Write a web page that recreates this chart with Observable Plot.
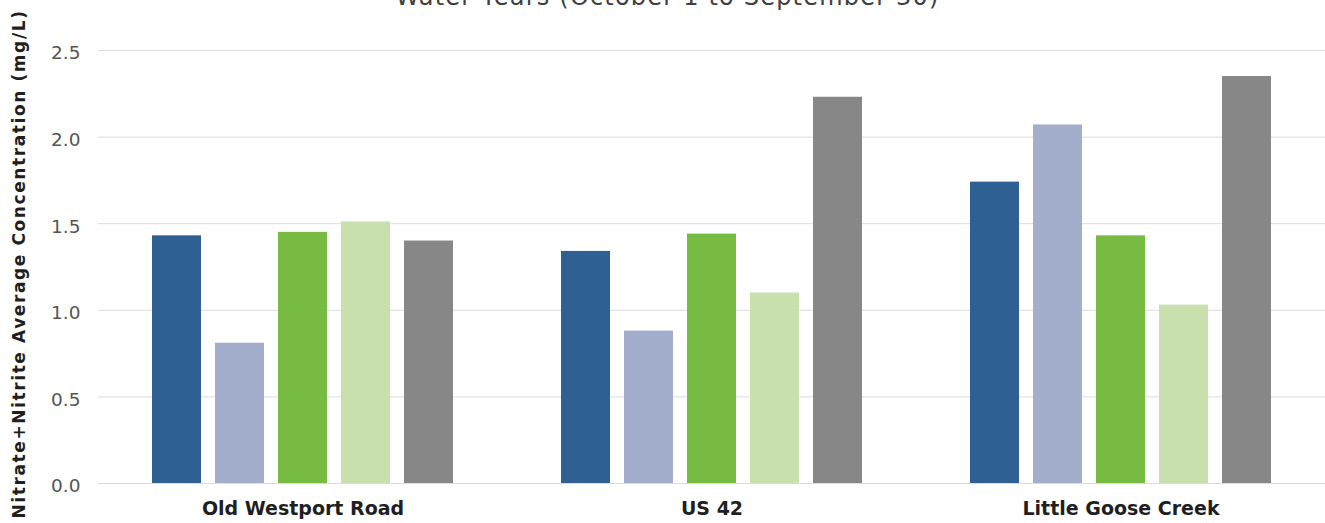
<!DOCTYPE html>
<html>
<head>
<meta charset="utf-8">
<script src="https://cdn.jsdelivr.net/npm/d3@7"></script>
<script src="https://cdn.jsdelivr.net/npm/@observablehq/plot@0.6"></script>
<style>
  html, body { margin: 0; padding: 0; background: #ffffff; }
  #chart { width: 1325px; height: 523px; overflow: hidden; }
</style>
</head>
<body>
<div id="chart"></div>
<script>
// Data
const sites = ["Old Westport Road", "US 42", "Little Goose Creek"];
const years = ["WY 2016", "WY 2017", "WY 2018", "WY 2019", "WY 2020"];
const oldWestportRoad = [1.43, 0.81, 1.45, 1.51, 1.40];
const us42 = [1.34, 0.88, 1.44, 1.10, 2.23];
const littleGooseCreek = [1.74, 2.07, 1.43, 1.03, 2.35];
const seriesColors = ["#2e6093", "#a2aecb", "#78bb43", "#c8e0ae", "#878787"];
const yTicks = [0, 0.5, 1.0, 1.5, 2.0, 2.5];
const titleText = "Water Years (October 1 to September 30)";
const yLabelText = "Nitrate+Nitrite Average Concentration (mg/L)";

const valuesBySite = [oldWestportRoad, us42, littleGooseCreek];
const data = [];
sites.forEach((s, i) => years.forEach((y, j) => data.push({site: s, year: y, value: valuesBySite[i][j]})));

const FONT = "'DejaVu Sans', sans-serif";
const W = 1325, H = 523;
const chart = Plot.plot({
  width: W, height: H,
  marginLeft: 97, marginRight: 0, marginTop: 50, marginBottom: 40,
  style: {fontFamily: FONT, background: "#ffffff", overflow: "visible"},
  fx: {domain: sites, paddingInner: 0, paddingOuter: 0, label: null, axis: null},
  x: {domain: years, paddingInner: 0.222, paddingOuter: 0.857, axis: null},
  y: {domain: [0, 2.5], label: null, axis: null},
  color: {domain: years, range: seriesColors},
  marks: [
    Plot.gridY(yTicks, {stroke: "#dcdcdc", strokeOpacity: 1, strokeWidth: 1}),
    Plot.barY(data, {fx: "site", x: "year", y: "value", fill: "year"}),
    Plot.axisY(yTicks, {tickSize: 0, tickPadding: 18, dy: 3, fontSize: 18.5, color: "#555555", label: null, tickFormat: d3.format(".1f"), style: {letterSpacing: "1px"}}),
    Plot.axisFx({anchor: "bottom", tickSize: 0, tickPadding: 18, fontSize: 19, fontWeight: "bold", color: "#1f1f1f", label: null, style: {letterSpacing: "0.8px"}})
  ]
});
document.getElementById("chart").appendChild(chart);

const svg = d3.select(chart);
svg.append("text")
  .attr("x", W / 2 + 5).attr("y", 5)
  .attr("text-anchor", "middle")
  .attr("font-family", FONT)
  .attr("font-size", 24)
  .attr("letter-spacing", "1.2px")
  .attr("fill", "#404040")
  .text(titleText);
svg.append("text")
  .attr("transform", `translate(25,264) rotate(-90)`)
  .attr("text-anchor", "middle")
  .attr("font-family", FONT)
  .attr("font-weight", "bold")
  .attr("font-size", 17)
  .attr("letter-spacing", "1.6px")
  .attr("fill", "#1f1f1f")
  .text(yLabelText);
</script>
</body>
</html>
